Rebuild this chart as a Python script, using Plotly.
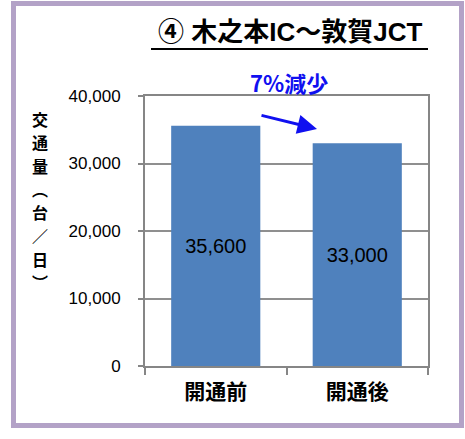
import plotly.graph_objects as go

categories = ["開通前", "開通後"]
values = [35600, 33000]
value_labels = ["35,600", "33,000"]
y_ticks = [0, 10000, 20000, 30000, 40000]
y_tick_labels = ["0", "10,000", "20,000", "30,000", "40,000"]
title_text = "④ 木之本IC～敦賀JCT"
change_text = "7%減少"
y_title_chars = ["交", "通", "量", "︵", "台", "／", "日", "︶"]

JP = "Noto Sans CJK JP"
NUM = "Liberation Sans"
MIX = "Liberation Sans, Noto Sans CJK JP"

# plot area in pixels: x 145..428, y 96..366
L, R, T, B = 145, 428, 96, 366
W, H = R - L, B - T


def px(x):
    return (x - L) / W


def py(y):
    return (B - y) / H


fig = go.Figure()
fig.add_trace(go.Bar(
    x=categories, y=values,
    marker=dict(color="#4F81BD", line=dict(width=0)),
    text=value_labels, textposition="inside", insidetextanchor="middle",
    textfont=dict(family=NUM, size=20, color="black"),
    hoverinfo="skip",
))

fig.update_layout(
    width=465, height=439,
    margin=dict(l=L, r=465 - R, t=T, b=439 - B),
    paper_bgcolor="white", plot_bgcolor="white",
    bargap=0.37, showlegend=False,
    xaxis=dict(
        showline=True, linecolor="#868686", linewidth=2, mirror=True,
        ticks="outside", tickson="boundaries", ticklen=7, tickcolor="#868686", tickwidth=1.5,
        tickfont=dict(family=JP, size=21, color="black", weight="bold"),
        ticklabelstandoff=6,
        showgrid=False,
    ),
    yaxis=dict(
        range=[0, 40000], tickvals=y_ticks, ticktext=y_tick_labels,
        showline=True, linecolor="#868686", linewidth=2, mirror=True,
        ticks="outside", ticklen=5, tickcolor="#868686", tickwidth=1.5,
        tickfont=dict(family=NUM, size=17, color="black"),
        ticklabelstandoff=14,
        showgrid=True, gridcolor="#8F8F8F", gridwidth=2,
        zeroline=False,
    ),
)

# outer purple frame
fig.add_shape(type="rect", xref="paper", yref="paper",
              x0=px(13.5), x1=px(461.5), y0=py(425.5), y1=py(3.5),
              line=dict(color="#B3A2C7", width=5), layer="below")

# title with underline
fig.add_annotation(xref="paper", yref="paper", x=px(290), y=py(32),
                   text=title_text, showarrow=False,
                   font=dict(family=MIX, size=26, color="black", weight="bold"),
                   xanchor="center", yanchor="middle")
fig.add_shape(type="line", xref="paper", yref="paper",
              x0=px(151), x1=px(428), y0=py(49), y1=py(49),
              line=dict(color="black", width=2))

# change label
fig.add_annotation(xref="paper", yref="paper", x=px(288.5), y=py(82),
                   text=change_text, showarrow=False,
                   font=dict(family=JP, size=22, color="#1010F0", weight="bold"),
                   xanchor="center", yanchor="middle")
# arrow
fig.add_annotation(xref="paper", yref="paper", x=px(317), y=py(129),
                   ax=260 - 317, ay=115 - 129, text="",
                   showarrow=True, arrowhead=2, arrowsize=1.3, arrowwidth=3,
                   arrowcolor="#1010F0", standoff=0)

# vertical y-axis title, one character per annotation
n = len(y_title_chars)
top_c, bot_c = 119, 282
for i, ch in enumerate(y_title_chars):
    yc = top_c + (bot_c - top_c) * i / (n - 1)
    fig.add_annotation(xref="paper", yref="paper", x=px(40), y=py(yc),
                       text=ch, showarrow=False,
                       font=dict(family=JP, size=16, color="black", weight="bold"),
                       xanchor="center", yanchor="middle")

fig.write_html("out.html", post_script="document.body.style.margin='0';",
               config={"displayModeBar": False})
